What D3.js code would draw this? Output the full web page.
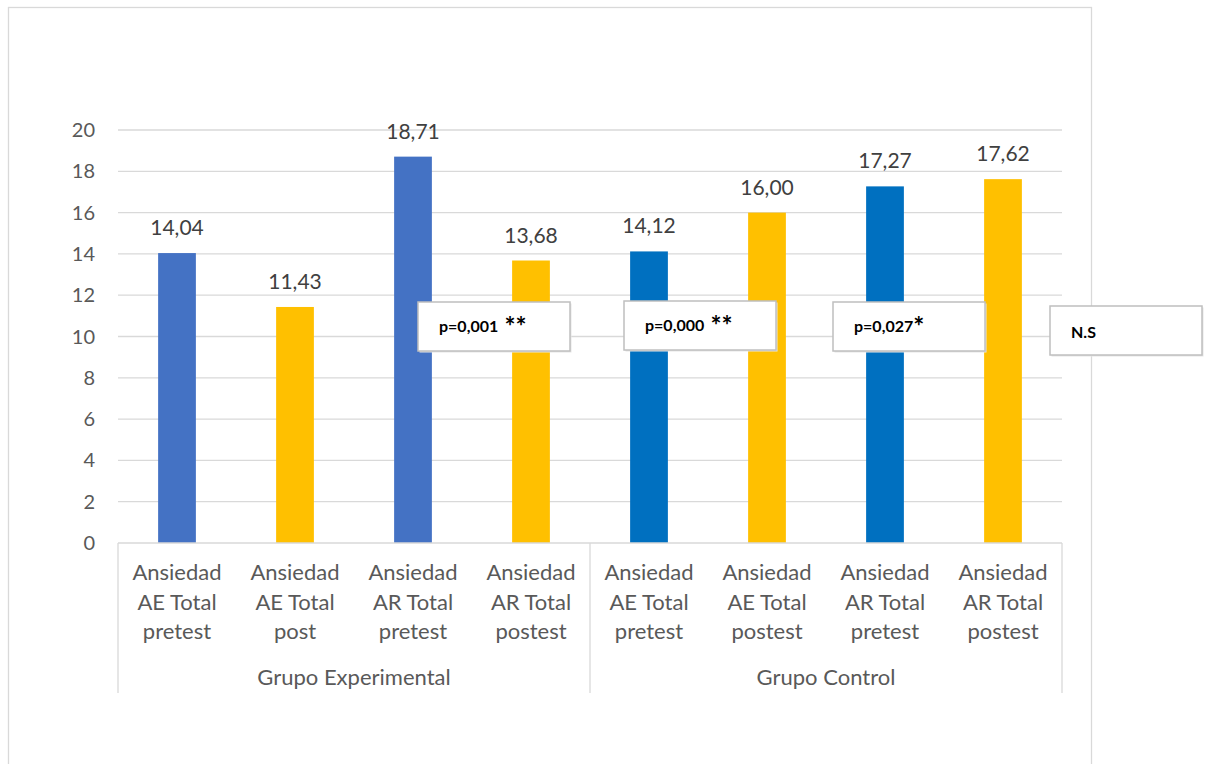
<!DOCTYPE html>
<html>
<head>
<meta charset="utf-8">
<script src="https://cdn.jsdelivr.net/npm/d3@7"></script>
<style>
  body { margin: 0; background: #fff; }
  svg text { font-family: Lato, "Noto Sans", sans-serif; }
</style>
</head>
<body>
<div id="chart"></div>
<script>
// data
var categories = [
    ["Ansiedad", "AE Total", "pretest"],
    ["Ansiedad", "AE Total", "post"],
    ["Ansiedad", "AR Total", "pretest"],
    ["Ansiedad", "AR Total", "postest"],
    ["Ansiedad", "AE Total", "pretest"],
    ["Ansiedad", "AE Total", "postest"],
    ["Ansiedad", "AR Total", "pretest"],
    ["Ansiedad", "AR Total", "postest"]
];
var values = [14.04, 11.43, 18.71, 13.68, 14.12, 16.00, 17.27, 17.62];
var barColors = ["#4472C4", "#FFC000", "#4472C4", "#FFC000", "#0070C0", "#FFC000", "#0070C0", "#FFC000"];
var groups = ["Grupo Experimental", "Grupo Control"];
var yTicks = [0, 2, 4, 6, 8, 10, 12, 14, 16, 18, 20];
var pLabels = [
    {p: "p=0,001", star: " **"},
    {p: "p=0,000", star: " **"},
    {p: "p=0,027", star: "*"},
    {p: "N.S", star: ""}
];

var W = 1209, H = 764;
var margin = {left: 118, right: 147, top: 130, bottom: 221};

var svg = d3.select("#chart").append("svg")
    .attr("width", W)
    .attr("height", H);

// chart area border
svg.append("rect")
    .attr("x", 8.5).attr("y", 7.5)
    .attr("width", 1083).attr("height", 800)
    .attr("fill", "none")
    .attr("stroke", "#d9d9d9")
    .attr("stroke-width", 1.3);

var x = d3.scaleBand()
    .domain(d3.range(values.length))
    .range([margin.left, W - margin.right])
    .paddingInner(0.68)
    .paddingOuter(0.34);

var y = d3.scaleLinear()
    .domain([0, 20])
    .range([H - margin.bottom, margin.top]);

// gridlines
svg.selectAll(".grid")
    .data(yTicks.filter(function(d) { return d > 0; }))
    .enter().append("line")
    .attr("x1", margin.left).attr("x2", W - margin.right)
    .attr("y1", function(d) { return y(d); })
    .attr("y2", function(d) { return y(d); })
    .attr("stroke", "#d9d9d9").attr("stroke-width", 1.3);

// y axis labels
svg.selectAll(".ytick")
    .data(yTicks)
    .enter().append("text")
    .attr("x", 95)
    .attr("y", function(d) { return y(d) + 7; })
    .attr("text-anchor", "end")
    .attr("font-size", "20px")
    .attr("fill", "#595959")
    .text(function(d) { return d; });

// bars
svg.selectAll(".bar")
    .data(values)
    .enter().append("rect")
    .attr("x", function(d, i) { return x(i); })
    .attr("y", function(d) { return y(d); })
    .attr("width", x.bandwidth())
    .attr("height", function(d) { return y(0) - y(d); })
    .attr("fill", function(d, i) { return barColors[i]; });

// value labels
svg.selectAll(".val")
    .data(values)
    .enter().append("text")
    .attr("x", function(d, i) { return x(i) + x.bandwidth() / 2; })
    .attr("y", function(d) { return y(d) - 18; })
    .attr("text-anchor", "middle")
    .attr("font-size", "21px")
    .attr("fill", "#404040")
    .text(function(d) { return d.toFixed(2).replace(".", ","); });

// x axis line + group separators
svg.append("line")
    .attr("x1", margin.left).attr("x2", W - margin.right)
    .attr("y1", y(0)).attr("y2", y(0))
    .attr("stroke", "#d9d9d9").attr("stroke-width", 1.3);

[0, 4, 8].forEach(function(k) {
    var xx = margin.left + k * (W - margin.left - margin.right) / values.length;
    svg.append("line")
        .attr("x1", xx).attr("x2", xx)
        .attr("y1", y(0)).attr("y2", 693)
        .attr("stroke", "#d9d9d9").attr("stroke-width", 1.3);
});

// category labels
var catG = svg.selectAll(".cat")
    .data(categories)
    .enter().append("text")
    .attr("text-anchor", "middle")
    .attr("font-size", "22px")
    .attr("fill", "#595959");
catG.each(function(lines, i) {
    var t = d3.select(this);
    lines.forEach(function(l, j) {
        t.append("tspan")
            .attr("x", x(i) + x.bandwidth() / 2)
            .attr("y", 580 + j * 29.5)
            .text(l);
    });
});

// group labels
var groupW = (W - margin.left - margin.right) / 2;
svg.selectAll(".grp")
    .data(groups)
    .enter().append("text")
    .attr("x", function(d, i) { return margin.left + groupW * i + groupW / 2; })
    .attr("y", 685)
    .attr("text-anchor", "middle")
    .attr("font-size", "22px")
    .attr("fill", "#595959")
    .text(function(d) { return d; });

// p-value boxes
var boxPos = [[418, 302], [624, 301], [833, 302], [1050, 306]];
pLabels.forEach(function(d, i) {
    var g = svg.append("g").attr("transform", "translate(" + boxPos[i][0] + "," + boxPos[i][1] + ")");
    g.append("rect")
        .attr("x", 1.5).attr("y", 1.5)
        .attr("width", 152).attr("height", 49)
        .attr("fill", "#e6e6e6");
    g.append("rect")
        .attr("width", 152).attr("height", 49)
        .attr("fill", "#fff")
        .attr("stroke", "#bfbfbf").attr("stroke-width", 1.5);
    var t = g.append("text")
        .attr("x", 21)
        .attr("y", d.star ? 30 : 32)
        .attr("font-weight", "bold")
        .attr("fill", "#000");
    t.append("tspan").attr("font-size", "16px").text(d.p);
    t.append("tspan").attr("font-size", "26px").attr("dy", 4).text(d.star);
});
</script>
</body>
</html>
